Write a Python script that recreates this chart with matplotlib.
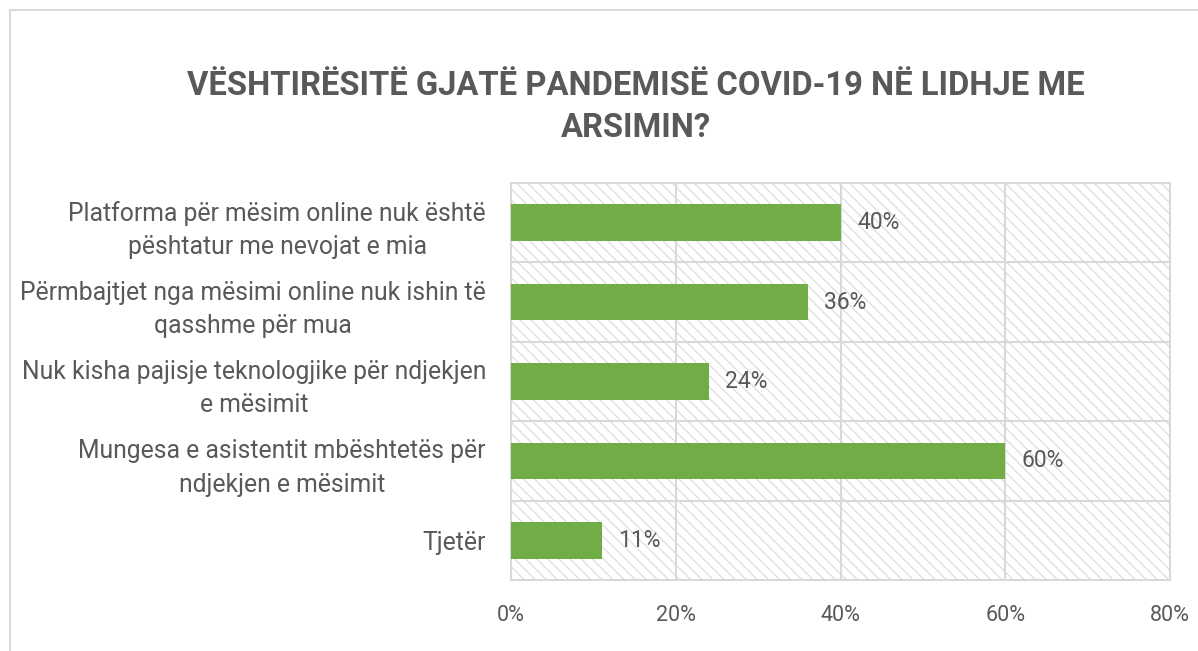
import matplotlib
matplotlib.use('Agg')
import matplotlib.pyplot as plt
from matplotlib.patches import Rectangle
from matplotlib.ticker import FuncFormatter

GREEN = '#70ad47'
TEXT = '#595959'
GRID = '#d9d9d9'
FONT = ['Roboto', 'DejaVu Sans']

categories = [
    'Platforma për mësim online nuk është\npështatur me nevojat e mia',
    'Përmbajtjet nga mësimi online nuk ishin të\nqasshme për mua',
    'Nuk kisha pajisje teknologjike për ndjekjen\ne mësimit',
    'Mungesa e asistentit mbështetës për\nndjekjen e mësimit',
    'Tjetër',
]
values = [40, 36, 24, 60, 11]
xticks = [0, 20, 40, 60, 80]

plt.rcParams['font.family'] = FONT
plt.rcParams['hatch.color'] = GRID
plt.rcParams['hatch.linewidth'] = 0.8

fig = plt.figure(figsize=(11.98, 6.51), dpi=100)
fig.patch.set_facecolor('white')

# outer chart border (left + top visible)
fig.add_artist(Rectangle((10 / 1198, -0.1), 1.2, 1 - 10 / 651 + 0.1,
                         transform=fig.transFigure, fill=False,
                         edgecolor=GRID, linewidth=1.5))

ax = fig.add_axes([511 / 1198, 1 - 580 / 651, (1170 - 511) / 1198, (580 - 183) / 651])
ax.set_xlim(0, 80)
n = len(categories)
ax.set_ylim(n - 0.5, -0.5)

# hatched plot area
ax.add_patch(Rectangle((0, 0), 1, 1, transform=ax.transAxes, facecolor='white',
                       edgecolor=GRID, hatch='\\\\\\', linewidth=0, zorder=0))

y = list(range(n))
ax.barh(y, values, height=0.46, color=GREEN, zorder=3)
for yi, v in zip(y, values):
    ax.text(v + 2, yi, f'{v}%', va='center', ha='left', fontsize=16.5,
            color=TEXT, zorder=4)

# gridlines
for xv in xticks[1:-1]:
    ax.axvline(xv, color=GRID, lw=1.5, zorder=1)
for k in range(n - 1):
    ax.axhline(k + 0.5, color=GRID, lw=1.5, zorder=1)
for s in ax.spines.values():
    s.set_color(GRID)
    s.set_linewidth(1.5)

ax.set_xticks(xticks)
ax.xaxis.set_major_formatter(FuncFormatter(lambda v, p: f'{v:.0f}%'))
ax.set_yticks(y)
ax.set_yticklabels(categories, ha='right', multialignment='center', linespacing=1.5)
ax.tick_params(axis='both', length=0, colors=TEXT)
ax.tick_params(axis='x', pad=18, labelsize=15.5)
ax.tick_params(axis='y', pad=18, labelsize=17.8)

fig.text(636 / 1198, 1 - 107 / 651,
         'VËSHTIRËSITË GJATË PANDEMISË COVID-19 NË LIDHJE ME\nARSIMIN?',
         ha='center', va='center', fontsize=23.6, fontweight='bold', color=TEXT,
         linespacing=1.4)

fig.savefig('out.png', dpi=100, facecolor='white')
